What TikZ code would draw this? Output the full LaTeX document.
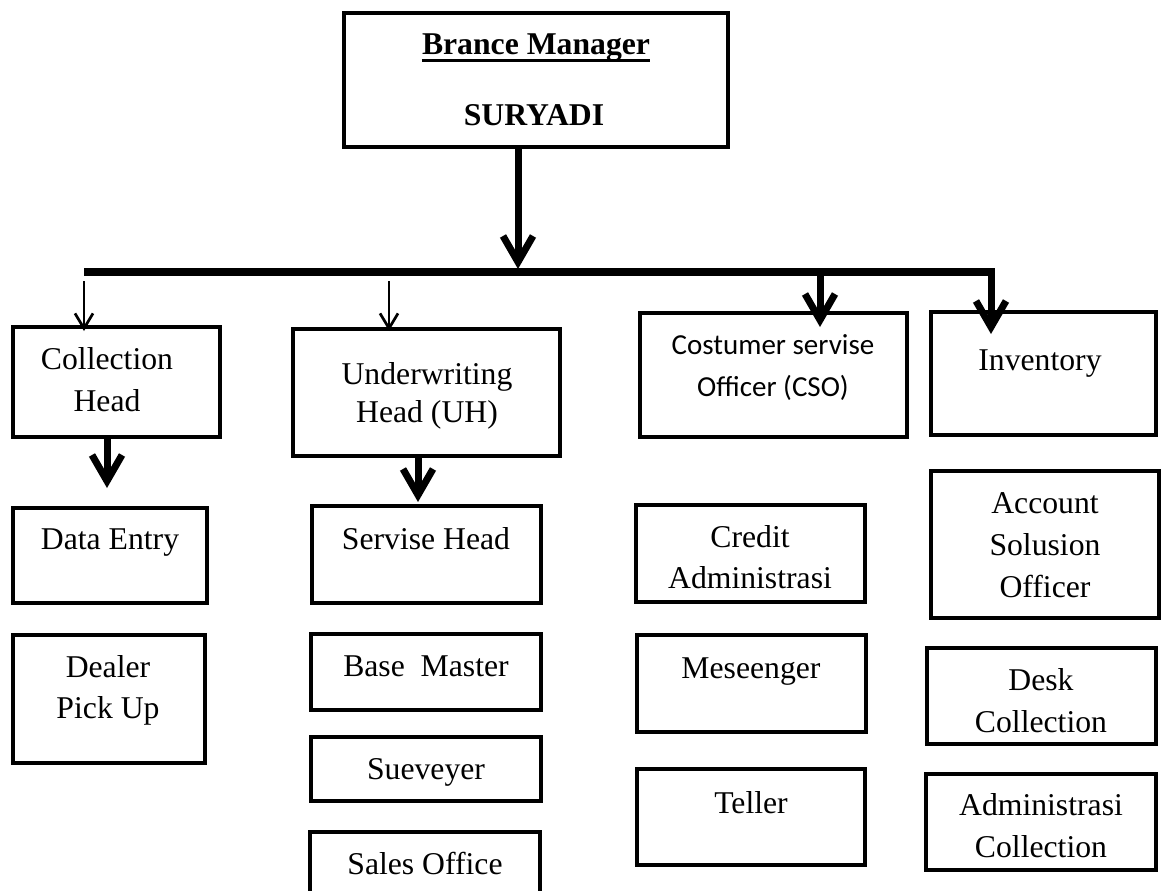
\documentclass[tikz,border=0pt]{standalone}
\usepackage{fontspec}
\setmainfont{Liberation Serif}
\newfontfamily\calfont{Carlito}
\usetikzlibrary{arrows.meta}
\newcommand{\bx}[5]{\node[box, minimum width={#4pt-#2pt}, minimum height={#5pt-#3pt}] (#1) at ({(#2+#4)/2},{(#3+#5)/2}) {};}
\newcommand{\tl}[4]{\node[txt] (#1) at (#2,#3) {#4};}
\begin{document}
\begin{tikzpicture}[x=1pt,y=-1pt,
  box/.style={draw, line width=4.5pt, inner sep=0pt, outer sep=0pt, rectangle},
  txt/.style={inner sep=0pt, anchor=base, font=\fontsize{31.7}{41}\selectfont},
  csotxt/.style={inner sep=0pt, anchor=base, font=\calfont\fontsize{29}{42}\selectfont},
  bmtxt/.style={inner sep=0pt, anchor=base, font=\fontsize{31.7}{41}\selectfont\bfseries},
  thickarr/.style={line width=7pt, -{Straight Barb[length=26pt,width=30pt]}},
  thinarr/.style={line width=2.7pt, -{Straight Barb[length=15pt,width=18pt]}},
  bar/.style={line width=8pt}]
\useasboundingbox (0,0) rectangle (1163,891);
\clip (0,0) rectangle (1163,891);

% boxes
\bx{bm}{344}{13}{728}{147}
\bx{ch}{13}{327}{220}{437}
\bx{uh}{293}{329}{560}{456}
\bx{cso}{640}{313}{907}{437}
\bx{inv}{931}{312}{1156}{435}
\bx{de}{13}{508}{207}{603}
\bx{dp}{13}{635}{205}{763}
\bx{sh}{312}{506}{541}{603}
\bx{bma}{311}{634}{541}{710}
\bx{sv}{311}{737}{541}{801}
\bx{so}{310}{832}{540}{920}
\bx{ca}{636}{505}{865}{602}
\bx{ms}{637}{635}{866}{732}
\bx{tl}{637}{769}{865}{865}
\bx{aso}{931}{471}{1159}{618}
\bx{dc}{927}{648}{1156}{744}
\bx{ac}{926}{774}{1156}{870}

% texts
\node[bmtxt] (bm1) at (536,55) {Brance Manager};
\draw[line width=2.7pt] ([yshift=-5.8pt]bm1.base west) -- ([yshift=-5.8pt]bm1.base east);
\node[bmtxt] (bm2) at (534,125) {SURYADI};
\tl{ch1}{107}{369}{Collection}
\tl{ch2}{107}{411}{Head}
\tl{uh1}{427}{384}{Underwriting}
\tl{uh2}{427}{422}{Head (UH)}
\node[csotxt] (cso1) at (773,354) {Costumer servise};
\node[csotxt] (cso2) at (773,396) {Officer (CSO)};
\tl{inv1}{1040}{370}{Inventory}
\tl{de1}{110}{549}{Data Entry}
\tl{dp1}{108}{677}{Dealer}
\tl{dp2}{108}{718}{Pick Up}
\tl{sh1}{426}{549}{Servise Head}
\tl{bma1}{426}{676}{Base\ \ Master}
\tl{sv1}{426}{779}{Sueveyer}
\tl{so1}{425}{874}{Sales Office}
\tl{ca1}{750}{547}{Credit}
\tl{ca2}{750}{588}{Administrasi}
\tl{ms1}{751}{678}{Meseenger}
\tl{tl1}{751}{813}{Teller}
\tl{aso1}{1045}{513}{Account}
\tl{aso2}{1045}{555}{Solusion}
\tl{aso3}{1045}{597}{Officer}
\tl{dc1}{1041}{690}{Desk}
\tl{dc2}{1041}{732}{Collection}
\tl{ac1}{1041}{815}{Administrasi}
\tl{ac2}{1041}{857}{Collection}

% connectors
\coordinate (j0) at (518,269);
\draw[thickarr] (bm.south -| j0) -- (j0);
\coordinate (barL) at (84,272);
\coordinate (barR) at (995,272);
\draw[bar] (barL) -- (barR);
\coordinate (s1) at (84,281);
\coordinate (s2) at (389,281);
\coordinate (s3) at (820,272);
\coordinate (s4) at (991,268);
\draw[thinarr] (s1) -- ([yshift=-4pt]s1 |- ch.north);
\draw[thinarr] (s2) -- ([yshift=-2pt]s2 |- uh.north);
\draw[thickarr] (s3) -- ([yshift=-14pt]s3 |- cso.north);
\draw[thickarr] (s4) -- ([yshift=-22pt]s4 |- inv.north);
\coordinate (a1) at (107,488);
\coordinate (a2) at (418,502);
\draw[thickarr] (ch.south -| a1) -- (a1);
\draw[thickarr] (uh.south -| a2) -- (a2);
\end{tikzpicture}
\end{document}
